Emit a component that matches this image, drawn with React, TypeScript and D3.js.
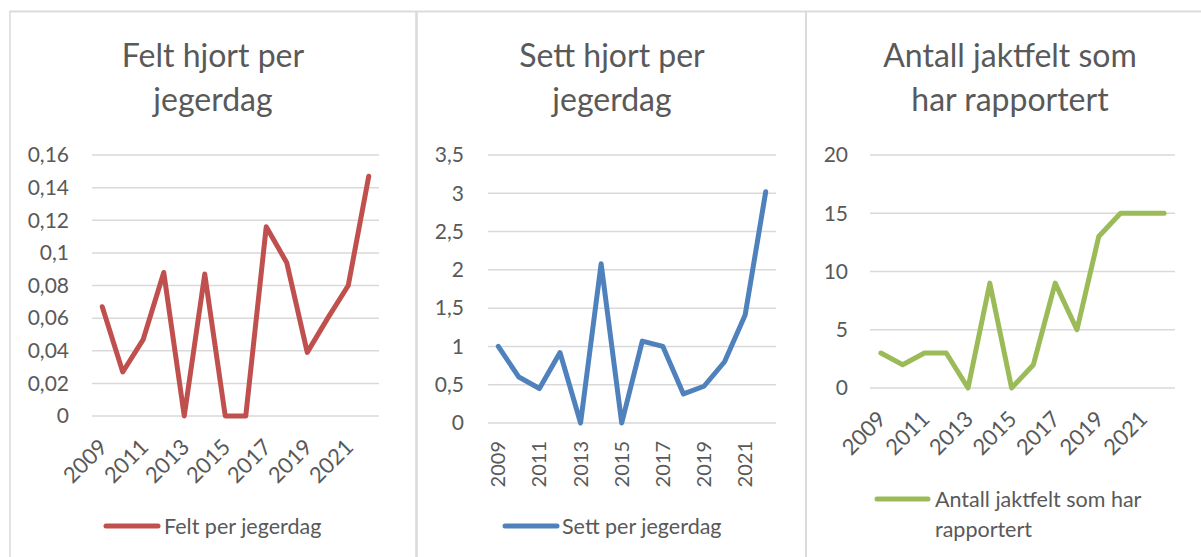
import React, { useEffect, useRef } from 'react';
import * as d3 from 'd3';

const years = ['2009', '2010', '2011', '2012', '2013', '2014', '2015', '2016', '2017', '2018', '2019', '2020', '2021', '2022'];
const shownYears = ['2009', '2011', '2013', '2015', '2017', '2019', '2021'];

const feltPerJegerdag = [0.067, 0.027, 0.047, 0.088, 0, 0.087, 0, 0, 0.116, 0.094, 0.039, 0.06, 0.08, 0.147];
const settPerJegerdag = [1.0, 0.6, 0.45, 0.92, 0, 2.08, 0, 1.07, 1.0, 0.38, 0.48, 0.8, 1.41, 3.02];
const antallJaktfelt = [3, 2, 3, 3, 0, 9, 0, 2, 9, 5, 13, 15, 15, 15];

const feltTicks = [0, 0.02, 0.04, 0.06, 0.08, 0.1, 0.12, 0.14, 0.16];
const settTicks = [0, 0.5, 1, 1.5, 2, 2.5, 3, 3.5];
const antallTicks = [0, 5, 10, 15, 20];

const FONT = 'Lato, "Noto Sans", sans-serif';
const TEXT = '#595959';
const GRID = '#D9D9D9';

interface Panel {
  title: string[];
  legend: string[];
  values: number[];
  ticks: number[];
  max: number;
  color: string;
  box: [number, number];
  plot: { x0: number; x1: number; y0: number; y1: number };
  titleX: number;
  tickX: number;
  labels: 'diag' | 'vert';
  leg: { x0: number; x1: number; y: number; tx: number };
}

const panels: Panel[] = [
  {
    title: ['Felt hjort per', 'jegerdag'],
    legend: ['Felt per jegerdag'],
    values: feltPerJegerdag,
    ticks: feltTicks,
    max: 0.16,
    color: '#C0504D',
    box: [10, 416],
    plot: { x0: 92, x1: 379, y0: 155, y1: 416 },
    titleX: 213,
    tickX: 69,
    labels: 'diag',
    leg: { x0: 106, x1: 158, y: 526, tx: 164 },
  },
  {
    title: ['Sett hjort per', 'jegerdag'],
    legend: ['Sett per jegerdag'],
    values: settPerJegerdag,
    ticks: settTicks,
    max: 3.5,
    color: '#4F81BD',
    box: [417, 806],
    plot: { x0: 488, x1: 776, y0: 155, y1: 423 },
    titleX: 612,
    tickX: 464,
    labels: 'vert',
    leg: { x0: 505, x1: 557, y: 526, tx: 562 },
  },
  {
    title: ['Antall jaktfelt som', 'har rapportert'],
    legend: ['Antall jaktfelt som har', 'rapportert'],
    values: antallJaktfelt,
    ticks: antallTicks,
    max: 20,
    color: '#9BBB59',
    box: [806, 1203],
    plot: { x0: 870, x1: 1175, y0: 155, y1: 388 },
    titleX: 1010,
    tickX: 848,
    labels: 'diag',
    leg: { x0: 877, x1: 928, y: 499, tx: 935 },
  },
];

const fmt = (v: number) => String(v).replace('.', ',');

const App: React.FC = () => {
  const ref = useRef<SVGSVGElement>(null);

  useEffect(() => {
    const svg = d3.select(ref.current);
    svg.selectAll('*').remove();

    // top border across all panels
    svg.append('line')
      .attr('x1', 9).attr('x2', 1201).attr('y1', 11.5).attr('y2', 11.5)
      .attr('stroke', GRID).attr('stroke-width', 1.5);

    panels.forEach(p => {
      const g = svg.append('g');

      g.append('rect')
        .attr('x', p.box[0]).attr('y', 11.5)
        .attr('width', p.box[1] - p.box[0]).attr('height', 560)
        .attr('fill', 'none').attr('stroke', GRID).attr('stroke-width', 1.5);

      const x = d3.scaleBand().domain(years).range([p.plot.x0, p.plot.x1]);
      const y = d3.scaleLinear().domain([0, p.max]).range([p.plot.y1, p.plot.y0]);
      const cx = (d: string) => (x(d) ?? 0) + x.bandwidth() / 2;

      // title
      g.append('text')
        .attr('x', p.titleX).attr('y', 67)
        .attr('text-anchor', 'middle')
        .style('font-family', FONT).style('font-size', '32px')
        .attr('fill', TEXT)
        .selectAll('tspan')
        .data(p.title)
        .enter()
        .append('tspan')
        .attr('x', p.titleX)
        .attr('dy', (d, i) => (i === 0 ? 0 : 44))
        .text(d => d);

      // gridlines + y labels
      g.selectAll('line.grid')
        .data(p.ticks)
        .enter()
        .append('line')
        .attr('class', 'grid')
        .attr('x1', p.plot.x0).attr('x2', p.plot.x1)
        .attr('y1', d => y(d)).attr('y2', d => y(d))
        .attr('stroke', GRID).attr('stroke-width', 1.5);

      g.selectAll('text.ytick')
        .data(p.ticks)
        .enter()
        .append('text')
        .attr('class', 'ytick')
        .attr('x', p.tickX).attr('y', d => y(d))
        .attr('dy', '0.35em')
        .attr('text-anchor', 'end')
        .style('font-family', FONT).style('font-size', '21px')
        .attr('fill', TEXT)
        .text(d => fmt(d));

      // x labels
      g.selectAll('text.xtick')
        .data(shownYears)
        .enter()
        .append('text')
        .attr('class', 'xtick')
        .attr('transform', d =>
          p.labels === 'diag'
            ? `translate(${cx(d) + 1}, ${p.plot.y1 + 27}) rotate(-45)`
            : `translate(${cx(d)}, ${p.plot.y1 + 18}) rotate(-90)`)
        .attr('dy', '0.35em')
        .attr('text-anchor', 'end')
        .style('font-family', FONT).style('font-size', p.labels === 'diag' ? '22px' : '20px')
        .attr('fill', TEXT)
        .text(d => d);

      // line
      const line = d3.line<number>()
        .x((d, i) => cx(years[i]))
        .y(d => y(d));

      g.append('path')
        .datum(p.values)
        .attr('d', line)
        .attr('fill', 'none')
        .attr('stroke', p.color)
        .attr('stroke-width', 5)
        .attr('stroke-linejoin', 'round')
        .attr('stroke-linecap', 'round');

      // legend
      g.append('line')
        .attr('x1', p.leg.x0).attr('x2', p.leg.x1)
        .attr('y1', p.leg.y).attr('y2', p.leg.y)
        .attr('stroke', p.color).attr('stroke-width', 5)
        .attr('stroke-linecap', 'round');

      g.append('text')
        .attr('x', p.leg.tx).attr('y', p.leg.y)
        .style('font-family', FONT).style('font-size', '21.5px')
        .attr('fill', TEXT)
        .selectAll('tspan')
        .data(p.legend)
        .enter()
        .append('tspan')
        .attr('x', p.leg.tx)
        .attr('dy', (d, i) => (i === 0 ? '0.35em' : '30px'))
        .text(d => d);
    });
  }, []);

  return (
    <div style={{ position: 'absolute', left: 0, top: 0 }}>
      <svg ref={ref} width={1201} height={557} style={{ display: 'block', background: '#fff' }} />
    </div>
  );
};

export default App;
